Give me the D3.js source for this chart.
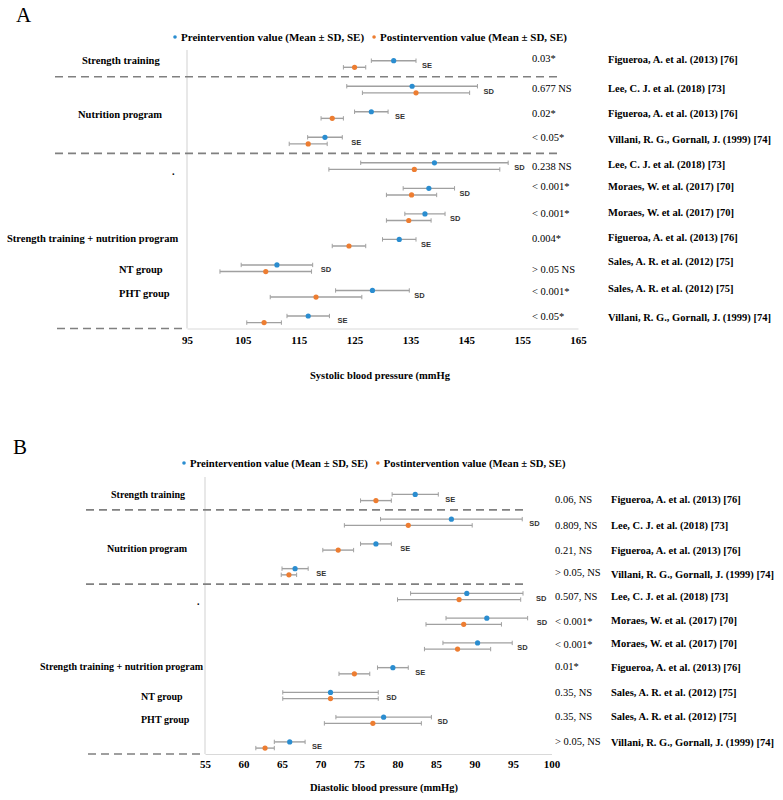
<!DOCTYPE html>
<html><head><meta charset="utf-8">
<script src="https://cdn.jsdelivr.net/npm/d3@7"></script>
<style>body{margin:0;background:#fff}</style>
</head><body>
<svg id="chart" width="783" height="800"></svg>
<script>
// ---------- DATA ----------
const references = [
  "Figueroa, A. et al. (2013) [76]",
  "Lee, C. J. et al. (2018) [73]",
  "Figueroa, A. et al. (2013) [76]",
  "Villani, R. G., Gornall, J. (1999) [74]",
  "Lee, C. J. et al. (2018) [73]",
  "Moraes, W. et al. (2017) [70]",
  "Moraes, W. et al. (2017) [70]",
  "Figueroa, A. et al. (2013) [76]",
  "Sales, A. R. et al. (2012) [75]",
  "Sales, A. R. et al. (2012) [75]",
  "Villani, R. G., Gornall, J. (1999) [74]"
];
const groupLabels = ["Strength training", "Nutrition program", ".", "Strength training + nutrition program", "NT group", "PHT group"];
const groupRows = [0, 2, 4, 7, 8, 9];
const errTypes = ["SE", "SD", "SE", "SE", "SD", "SD", "SD", "SE", "SD", "SD", "SE"];
const seriesNames = ["Preintervention value (Mean \u00b1 SD, SE)", "Postintervention value (Mean \u00b1 SD, SE)"];

// Panel A: systolic
const ticksA = [95, 105, 115, 125, 135, 145, 155, 165];
const preMeanA = [132.0, 135.3, 128.0, 119.7, 139.3, 138.3, 137.6, 133.0, 111.1, 128.2, 116.7];
const preErrA = [4.0, 11.7, 3.0, 3.1, 13.2, 4.6, 3.6, 3.0, 6.4, 6.6, 3.8];
const postMeanA = [125.0, 136.0, 121.0, 116.7, 135.7, 135.2, 134.7, 124.0, 109.1, 118.1, 108.8];
const postErrA = [2.0, 9.6, 2.0, 3.4, 15.3, 4.5, 4.0, 3.0, 8.2, 8.2, 3.1];
const pValuesA = ["0.03*", "0.677 NS", "0.02*", "< 0.05*", "0.238 NS", "< 0.001*", "< 0.001*", "0.004*", "> 0.05 NS", "< 0.001*", "< 0.05*"];

// Panel B: diastolic
const ticksB = [55, 60, 65, 70, 75, 80, 85, 90, 95, 100];
const preMeanB = [82.3, 87.0, 77.2, 66.7, 89.0, 91.6, 90.4, 79.4, 71.3, 78.2, 66.0];
const preErrB = [3.0, 9.2, 2.0, 1.7, 7.3, 5.3, 4.5, 2.0, 6.2, 6.2, 2.0];
const postMeanB = [77.2, 81.4, 72.3, 65.9, 88.0, 88.6, 87.8, 74.4, 71.3, 76.8, 62.8];
const postErrB = [2.0, 8.3, 2.0, 1.0, 8.0, 4.9, 4.3, 2.0, 6.2, 6.3, 1.2];
const pValuesB = ["0.06, NS", "0.809, NS", "0.21, NS", "> 0.05, NS", "0.507, NS", "< 0.001*", "< 0.001*", "0.01*", "0.35, NS", "0.35, NS", "> 0.05, NS"];

// ---------- STYLE / LAYOUT ----------
const BLUE = "#2a8dd0", ORANGE = "#ed7d31", BAR = "#a0a0a0", DASH = "#808080", AXIS = "#d9d9d9";
const SERIF = "'Liberation Serif', 'Times New Roman', serif";
const SANS = "'Liberation Sans', Arial, sans-serif";

const svg = d3.select("#chart");

function drawPanel(cfg) {
  const g = svg.append("g");
  const x = d3.scaleLinear().domain(cfg.domain).range(cfg.xRange);
  const y = d3.scaleLinear().domain([0, 10]).range(cfg.yRange);
  const n = cfg.pre.length;

  // panel letter
  g.append("text").attr("x", cfg.letterX).attr("y", cfg.letterY).attr("dy", "0.35em")
    .attr("font-family", SERIF).attr("font-size", 21).text(cfg.letter);

  // legend
  const leg = g.append("g").attr("transform", `translate(${cfg.legendX},${cfg.legendY})`);
  let lx = 0;
  [BLUE, ORANGE].forEach((c, i) => {
    leg.append("circle").attr("cx", lx).attr("cy", 0).attr("r", 1.8).attr("fill", c);
    const t = leg.append("text").attr("x", lx + 6).attr("y", 0).attr("dy", "0.35em")
      .attr("font-family", SERIF).attr("font-weight", "bold").attr("font-size", cfg.legendSize)
      .text(seriesNames[i]);
    lx += 6 + t.node().getComputedTextLength() + cfg.legendGap;
  });

  // vertical axis line
  g.append("line").attr("x1", x(cfg.domain[0])).attr("x2", x(cfg.domain[0]))
    .attr("y1", cfg.axisTop).attr("y2", cfg.baseline).attr("stroke", AXIS).attr("stroke-width", 1.2);

  // x axis
  const ax = g.append("g").attr("transform", `translate(0,${cfg.baseline})`)
    .call(d3.axisBottom(x).tickValues(cfg.ticks).tickSize(0).tickPadding(cfg.tickPad).tickFormat(d3.format("d")));
  ax.select(".domain").attr("stroke", AXIS).attr("stroke-width", 1.2);
  ax.selectAll("text").attr("font-family", SERIF).attr("font-weight", "bold").attr("font-size", 11).attr("fill", "#000");

  // axis title
  g.append("text").attr("x", cfg.titleX).attr("y", cfg.titleY).attr("text-anchor", "middle").attr("dy", "0.35em")
    .attr("font-family", SERIF).attr("font-weight", "bold").attr("font-size", 10.5).text(cfg.title);

  // dashed separators
  cfg.sepRows.forEach(r => {
    g.append("line").attr("x1", cfg.dashX[0]).attr("x2", cfg.dashX[1])
      .attr("y1", y(r)).attr("y2", y(r))
      .attr("stroke", DASH).attr("stroke-width", 1.6).attr("stroke-dasharray", "8,5");
  });
  g.append("line").attr("x1", cfg.dashX[0] + 2).attr("x2", x(cfg.domain[0]))
    .attr("y1", cfg.baseline).attr("y2", cfg.baseline)
    .attr("stroke", DASH).attr("stroke-width", 1.6).attr("stroke-dasharray", "8,5");

  // group labels
  groupLabels.forEach((lab, i) => {
    g.append("text").attr("x", cfg.groupX[i]).attr("y", y(groupRows[i]) + cfg.groupDy[i]).attr("dy", "0.35em")
      .attr("font-family", SERIF).attr("font-weight", "bold").attr("font-size", cfg.groupSize).text(lab);
  });

  // error bars and points
  const series = [
    {mean: cfg.pre, err: cfg.preErr, color: BLUE, off: -cfg.pairOff},
    {mean: cfg.post, err: cfg.postErr, color: ORANGE, off: cfg.pairOff}
  ];
  series.forEach(s => {
    const sg = g.append("g");
    d3.range(n).forEach(i => {
      const yy = y(i) + s.off;
      const x0 = x(s.mean[i] - s.err[i]), x1 = x(s.mean[i] + s.err[i]);
      sg.append("line").attr("x1", x0).attr("x2", x1).attr("y1", yy).attr("y2", yy)
        .attr("stroke", BAR).attr("stroke-width", 1.4);
      [x0, x1].forEach(xx => sg.append("line").attr("x1", xx).attr("x2", xx).attr("y1", yy - 2.2).attr("y2", yy + 2.2)
        .attr("stroke", BAR).attr("stroke-width", 1));
      sg.append("circle").attr("cx", x(s.mean[i])).attr("cy", yy).attr("r", 2.6).attr("fill", s.color);
    });
  });

  // SE / SD labels
  d3.range(n).forEach(i => {
    const right = Math.max(x(cfg.pre[i] + cfg.preErr[i]), x(cfg.post[i] + cfg.postErr[i]));
    g.append("text").attr("x", right + cfg.errLabelDx[i]).attr("y", y(i) + 1.5).attr("dy", "0.35em")
      .attr("font-family", SANS).attr("font-weight", "bold").attr("font-size", 7.5).attr("fill", "#333")
      .text(errTypes[i]);
  });

  // p-values and references
  d3.range(n).forEach(i => {
    g.append("text").attr("x", cfg.pX).attr("y", y(i) + cfg.pDy[i]).attr("dy", "0.35em")
      .attr("font-family", SERIF).attr("font-size", 10.5).text(cfg.pvals[i]);
    g.append("text").attr("x", cfg.refX).attr("y", y(i) + cfg.refDy[i]).attr("dy", "0.35em")
      .attr("font-family", SERIF).attr("font-weight", "bold").attr("font-size", 10.5).text(references[i]);
  });
}

drawPanel({
  letter: "A", letterX: 16, letterY: 15,
  legendX: 175, legendY: 37, legendSize: 11, legendGap: 10,
  domain: [95, 165], xRange: [187, 578], ticks: ticksA, tickPad: 8,
  yRange: [64, 319.3], axisTop: 50, baseline: 328.5,
  title: "Systolic blood pressure (mmHg", titleX: 380, titleY: 375,
  sepRows: [0.5, 3.5], dashX: [55, 558],
  groupX: [82, 78, 172, 7, 119, 119], groupDy: [-3.3, -1, 5, -4, 1.5, 0], groupSize: 10.5,
  pairOff: 3.3,
  pre: preMeanA, preErr: preErrA, post: postMeanA, postErr: postErrA,
  errLabelDx: [6, 6, 7, 9, 6, 5, 5, 5, 8, 5, 8],
  pvals: pValuesA, pX: 532, pDy: [-5.5, -1.5, -2, -3, 0, -5, -4, -4.5, 1.5, -2.5, -2.5],
  refX: 608, refDy: [-5, -1.5, -1.5, -1.5, -1.5, -5.5, -5, -5, -6.5, -5, -2]
});

drawPanel({
  letter: "B", letterX: 13, letterY: 447,
  legendX: 184, legendY: 463, legendSize: 10.7, legendGap: 10,
  domain: [55, 100], xRange: [205, 551.5], ticks: ticksB, tickPad: 6,
  yRange: [497.5, 745], axisTop: 477, baseline: 754,
  title: "Diastolic blood pressure (mmHg)", titleX: 384, titleY: 787,
  sepRows: [0.5, 3.5], dashX: [86, 527],
  groupX: [111, 107, 197, 40, 141, 141], groupDy: [-3, 1.7, 5, -4.5, 1, -1], groupSize: 10,
  pairOff: 3.1,
  pre: preMeanB, preErr: preErrB, post: postMeanB, postErr: postErrB,
  errLabelDx: [7, 7, 9, 8, 13, 9, 5, 7, 8, 6, 7],
  pvals: pValuesB, pX: 555, pDy: [1.5, 3, 3, 0.5, -0.5, 0, -2, -4.5, -3.5, -3.5, -3.5],
  refX: 611, refDy: [1.5, 3, 3, 2.5, 0, -1, -3, -3, -3.5, -3.5, -2.5]
});
</script>
</body></html>
